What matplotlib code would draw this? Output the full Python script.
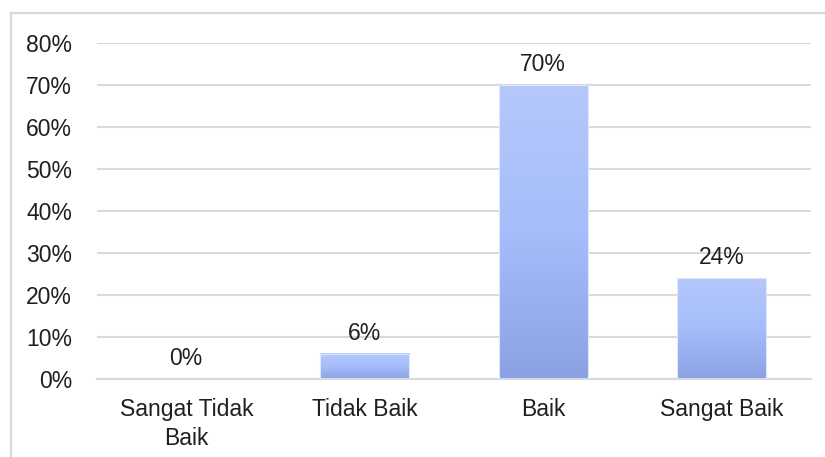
import numpy as np
import matplotlib.pyplot as plt
from matplotlib.patches import Rectangle
from matplotlib.colors import LinearSegmentedColormap

kategori = ['Sangat Tidak\nBaik', 'Tidak Baik', 'Baik', 'Sangat Baik']
persen = [0, 6, 70, 24]
yticks = [0, 10, 20, 30, 40, 50, 60, 70, 80]

plt.rcParams['font.family'] = ['Liberation Sans', 'DejaVu Sans']

fig = plt.figure(figsize=(8.25, 4.57), dpi=100)
ax = fig.add_axes([97 / 825, 1 - 379 / 457, (811 - 97) / 825, (379 - 43) / 457])

# bingkai abu-abu di sekitar grafik
fig.patches.append(Rectangle((11 / 825, -0.2), 1.2, 1.2 - 13 / 457,
                             transform=fig.transFigure, fill=False,
                             edgecolor='#d9d9d9', linewidth=1.6))

x = np.arange(len(kategori))
bars = ax.bar(x, persen, width=0.5, color='none', edgecolor='#dfe7fb',
              linewidth=0.8, zorder=3)

cmap = LinearSegmentedColormap.from_list('grad', ['#8aa2e5', '#a5bdfa', '#b5c8fb'])
grad = np.linspace(0, 1, 256).reshape(-1, 1)
for b in bars:
    if b.get_height() <= 0:
        continue
    x0, w, h = b.get_x(), b.get_width(), b.get_height()
    ax.imshow(grad, cmap=cmap, origin='lower', aspect='auto',
              extent=[x0, x0 + w, 0, h], zorder=2)

for xi, v in zip(x, persen):
    ax.text(xi, v + 2.2, f'{v}%', ha='center', va='bottom', fontsize=16.5,
            color='#1f1f1f')

ax.set_xlim(-0.5, len(kategori) - 0.5)
ax.set_ylim(0, 80)
ax.set_yticks(yticks)
ax.set_yticklabels([f'{t}%' for t in yticks])
ax.set_xticks(x)
ax.set_xticklabels(kategori, linespacing=1.3)
ax.tick_params(axis='both', length=0, labelsize=16.5, labelcolor='#1f1f1f')
ax.tick_params(axis='y', pad=18)
ax.tick_params(axis='x', pad=14)
ax.grid(axis='y', color='#d9d9d9', linewidth=1.5, zorder=0)
ax.set_axisbelow(True)
for s in ['top', 'right', 'left']:
    ax.spines[s].set_visible(False)
ax.spines['bottom'].set_color('#d9d9d9')
ax.spines['bottom'].set_linewidth(1.5)

fig.savefig('out.png', dpi=100)
